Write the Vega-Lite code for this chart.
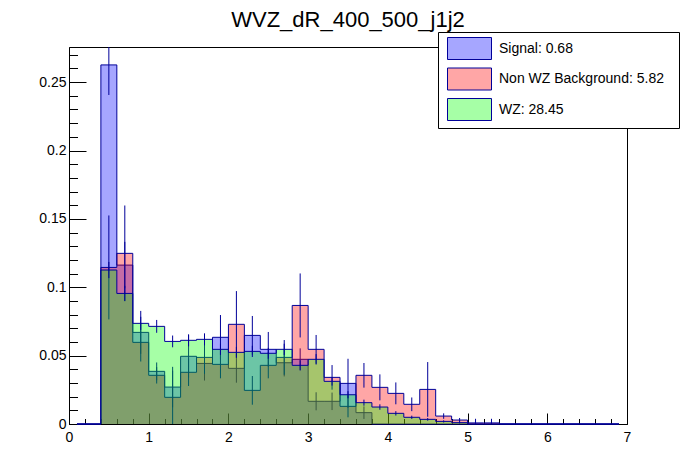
{
  "$schema": "https://vega.github.io/schema/vega-lite/v6.json",
  "width": 558,
  "height": 377,
  "autosize": {"type": "none"},
  "padding": {"left": 69, "top": 47, "right": 69, "bottom": 48},
  "background": "white",
  "title": {
    "text": "WVZ_dR_400_500_j1j2",
    "font": "Liberation Sans",
    "fontSize": 22,
    "fontWeight": "normal",
    "color": "black",
    "anchor": "middle",
    "baseline": "alphabetic",
    "offset": -17
  },
  "data": {
    "values": [
      {"c": 0.1, "sig": 0, "sig_e": 0, "bkg": 0, "bkg_e": 0, "wz": 0, "wz_e": 0},
      {"c": 0.3, "sig": 0, "sig_e": 0, "bkg": 0, "bkg_e": 0, "wz": 0, "wz_e": 0},
      {"c": 0.5, "sig": 0.2626, "sig_e": 0.022, "bkg": 0.1145, "bkg_e": 0.038, "wz": 0.1126, "wz_e": 0.0059},
      {"c": 0.7, "sig": 0.1162, "sig_e": 0.017, "bkg": 0.1248, "bkg_e": 0.035, "wz": 0.0955, "wz_e": 0.0055},
      {"c": 0.9, "sig": 0.067, "sig_e": 0.0157, "bkg": 0.0597, "bkg_e": 0.014, "wz": 0.0736, "wz_e": 0.0048},
      {"c": 1.1, "sig": 0.0385, "sig_e": 0.0065, "bkg": 0.0356, "bkg_e": 0.006, "wz": 0.0714, "wz_e": 0.0047},
      {"c": 1.3, "sig": 0.027, "sig_e": 0.0148, "bkg": 0.0195, "bkg_e": 0.0195, "wz": 0.0604, "wz_e": 0.0043},
      {"c": 1.5, "sig": 0.0495, "sig_e": 0.0155, "bkg": 0.0378, "bkg_e": 0.01, "wz": 0.0612, "wz_e": 0.0044},
      {"c": 1.7, "sig": 0.0443, "sig_e": 0.0125, "bkg": 0.0487, "bkg_e": 0.012, "wz": 0.0619, "wz_e": 0.0044},
      {"c": 1.9, "sig": 0.0634, "sig_e": 0.0163, "bkg": 0.0436, "bkg_e": 0.0102, "wz": 0.0546, "wz_e": 0.0041},
      {"c": 2.1, "sig": 0.0407, "sig_e": 0.0105, "bkg": 0.0729, "bkg_e": 0.0243, "wz": 0.0524, "wz_e": 0.004},
      {"c": 2.3, "sig": 0.0648, "sig_e": 0.0142, "bkg": 0.0246, "bkg_e": 0.0105, "wz": 0.0531, "wz_e": 0.0041},
      {"c": 2.5, "sig": 0.0546, "sig_e": 0.0127, "bkg": 0.0429, "bkg_e": 0.0095, "wz": 0.0517, "wz_e": 0.004},
      {"c": 2.7, "sig": 0.0448, "sig_e": 0.01, "bkg": 0.0487, "bkg_e": 0.0127, "wz": 0.0546, "wz_e": 0.0041},
      {"c": 2.9, "sig": 0.0473, "sig_e": 0.008, "bkg": 0.0867, "bkg_e": 0.0234, "wz": 0.0429, "wz_e": 0.0037},
      {"c": 3.1, "sig": 0.0166, "sig_e": 0.0066, "bkg": 0.0546, "bkg_e": 0.0105, "wz": 0.0473, "wz_e": 0.0038},
      {"c": 3.3, "sig": 0.0166, "sig_e": 0.0064, "bkg": 0.0341, "bkg_e": 0.009, "wz": 0.0312, "wz_e": 0.0031},
      {"c": 3.5, "sig": 0.0297, "sig_e": 0.018, "bkg": 0.0129, "bkg_e": 0.008, "wz": 0.0214, "wz_e": 0.0026},
      {"c": 3.7, "sig": 0.0083, "sig_e": 0.0046, "bkg": 0.0356, "bkg_e": 0.009, "wz": 0.0156, "wz_e": 0.0022},
      {"c": 3.9, "sig": 0, "sig_e": 0, "bkg": 0.0268, "bkg_e": 0.0095, "wz": 0.0124, "wz_e": 0.002},
      {"c": 4.1, "sig": 0, "sig_e": 0, "bkg": 0.0224, "bkg_e": 0.008, "wz": 0.0078, "wz_e": 0.0016},
      {"c": 4.3, "sig": 0, "sig_e": 0, "bkg": 0.0144, "bkg_e": 0.005, "wz": 0.0049, "wz_e": 0.0012},
      {"c": 4.5, "sig": 0, "sig_e": 0, "bkg": 0.0253, "bkg_e": 0.02, "wz": 0.0034, "wz_e": 0.001},
      {"c": 4.7, "sig": 0, "sig_e": 0, "bkg": 0.0058, "bkg_e": 0.002, "wz": 0.0019, "wz_e": 0.0008},
      {"c": 4.9, "sig": 0, "sig_e": 0, "bkg": 0.0029, "bkg_e": 0.0015, "wz": 0.001, "wz_e": 0.0006},
      {"c": 5.1, "sig": 0, "sig_e": 0, "bkg": 0.0008, "bkg_e": 0.003, "wz": 0, "wz_e": 0},
      {"c": 5.3, "sig": 0, "sig_e": 0, "bkg": 0.0008, "bkg_e": 0.003, "wz": 0, "wz_e": 0},
      {"c": 5.5, "sig": 0, "sig_e": 0, "bkg": 0, "bkg_e": 0, "wz": 0, "wz_e": 0},
      {"c": 5.7, "sig": 0, "sig_e": 0, "bkg": 0, "bkg_e": 0, "wz": 0, "wz_e": 0},
      {"c": 5.9, "sig": 0, "sig_e": 0, "bkg": 0, "bkg_e": 0, "wz": 0, "wz_e": 0},
      {"c": 6.1, "sig": 0, "sig_e": 0, "bkg": 0, "bkg_e": 0, "wz": 0, "wz_e": 0},
      {"c": 6.3, "sig": 0, "sig_e": 0, "bkg": 0, "bkg_e": 0, "wz": 0, "wz_e": 0},
      {"c": 6.5, "sig": 0, "sig_e": 0, "bkg": 0, "bkg_e": 0, "wz": 0, "wz_e": 0},
      {"c": 6.7, "sig": 0, "sig_e": 0, "bkg": 0, "bkg_e": 0, "wz": 0, "wz_e": 0},
      {"c": 6.9, "sig": 0, "sig_e": 0, "bkg": 0, "bkg_e": 0, "wz": 0, "wz_e": 0}
    ]
  },
  "encoding": {
    "x": {
      "field": "c",
      "type": "quantitative",
      "title": null,
      "scale": {"domain": [0, 7], "nice": false, "zero": false},
      "axis": null
    }
  },
  "layer": [
    {
      "mark": {"type": "area", "interpolate": "step", "fillOpacity": 0.35},
      "encoding": {
        "x": {
          "field": "c",
          "type": "quantitative",
          "title": null,
          "axis": {
            "orient": "bottom",
            "values": [0, 1, 2, 3, 4, 5, 6, 7],
            "format": "d",
            "tickSize": -11,
            "labelPadding": 17,
            "grid": false,
            "labelFlush": false,
            "labelOverlap": false
          }
        },
        "y": {
          "field": "sig",
          "type": "quantitative",
          "title": null,
          "scale": {"domain": [0, 0.2757], "nice": false, "zero": true},
          "axis": {
            "orient": "left",
            "values": [0, 0.05, 0.1, 0.15, 0.2, 0.25],
            "format": "~g",
            "tickSize": -17,
            "labelPadding": 20,
            "grid": false,
            "labelFlush": false,
            "labelOverlap": false
          }
        },
        "fill": {
          "datum": "Signal: 0.68",
          "type": "nominal",
          "scale": {
            "domain": ["Signal: 0.68", "Non WZ Background: 5.82", "WZ: 28.45"],
            "range": ["#0000ff", "#ff0000", "#00ff00"]
          },
          "legend": {
            "orient": "none",
            "legendX": 369,
            "legendY": -15,
            "title": null,
            "padding": 5,
            "fillColor": "white",
            "strokeColor": "black",
            "cornerRadius": 0,
            "symbolType": "M-2,-1H2V1H-2Z",
            "symbolSize": 484,
            "symbolStrokeColor": "#000099",
            "symbolStrokeWidth": 1,
            "symbolOffset": 15,
            "labelOffset": 18,
            "labelExpr": "datum.label + '\u2800'",
            "rowPadding": 3.5,
            "labelLimit": 400,
            "labelFont": "Liberation Sans",
            "labelFontSize": 14,
            "labelColor": "black",
            "encode": {"symbols": {"update": {"fillOpacity": {"value": 0.35}, "opacity": {"value": 1}}}}
          }
        }
      }
    },
    {
      "mark": {"type": "line", "interpolate": "step", "color": "#000099", "strokeWidth": 1},
      "encoding": {
        "x": {
          "field": "c",
          "type": "quantitative",
          "title": null,
          "axis": {
            "orient": "bottom",
            "values": [0.2, 0.4, 0.6, 0.8, 1.2, 1.4, 1.6, 1.8, 2.2, 2.4, 2.6, 2.8, 3.2, 3.4, 3.6, 3.8, 4.2, 4.4, 4.6, 4.8, 5.2, 5.4, 5.6, 5.8, 6.2, 6.4, 6.6, 6.8],
            "labels": false,
            "domain": false,
            "tickSize": -5.5,
            "grid": false
          }
        },
        "y": {
          "field": "sig",
          "type": "quantitative",
          "title": null,
          "axis": {
            "orient": "left",
            "values": [0.01, 0.02, 0.03, 0.04, 0.06, 0.07, 0.08, 0.09, 0.11, 0.12, 0.13, 0.14, 0.16, 0.17, 0.18, 0.19, 0.21, 0.22, 0.23, 0.24, 0.26, 0.27],
            "labels": false,
            "domain": false,
            "tickSize": -8.5,
            "grid": false
          }
        }
      }
    },
    {
      "mark": {"type": "errorbar", "color": "#000099", "thickness": 1, "clip": true},
      "encoding": {"y": {"field": "sig", "type": "quantitative", "title": null, "axis": null}, "yError": {"field": "sig_e"}}
    },
    {
      "mark": {"type": "area", "interpolate": "step", "fillOpacity": 0.35},
      "encoding": {
        "y": {"field": "bkg", "type": "quantitative", "title": null, "axis": null},
        "fill": {"datum": "Non WZ Background: 5.82", "type": "nominal"}
      }
    },
    {
      "mark": {"type": "line", "interpolate": "step", "color": "#000099", "strokeWidth": 1},
      "encoding": {"y": {"field": "bkg", "type": "quantitative", "title": null, "axis": null}}
    },
    {
      "mark": {"type": "errorbar", "color": "#000099", "thickness": 1, "clip": true},
      "encoding": {"y": {"field": "bkg", "type": "quantitative", "title": null, "axis": null}, "yError": {"field": "bkg_e"}}
    },
    {
      "mark": {"type": "area", "interpolate": "step", "fillOpacity": 0.35},
      "encoding": {
        "y": {"field": "wz", "type": "quantitative", "title": null, "axis": null},
        "fill": {"datum": "WZ: 28.45", "type": "nominal"}
      }
    },
    {
      "mark": {"type": "line", "interpolate": "step", "color": "#000099", "strokeWidth": 1},
      "encoding": {"y": {"field": "wz", "type": "quantitative", "title": null, "axis": null}}
    },
    {
      "mark": {"type": "errorbar", "color": "#000099", "thickness": 1, "clip": true},
      "encoding": {"y": {"field": "wz", "type": "quantitative", "title": null, "axis": null}, "yError": {"field": "wz_e"}}
    }
  ],
  "resolve": {"axis": {"x": "independent", "y": "independent"}},
  "config": {
    "font": "Liberation Sans",
    "view": {"stroke": "black", "strokeWidth": 1},
    "axis": {
      "domainColor": "black",
      "tickColor": "black",
      "labelColor": "black",
      "labelFont": "Liberation Sans",
      "labelFontSize": 14,
      "tickWidth": 1,
      "domainWidth": 1
    }
  }
}
